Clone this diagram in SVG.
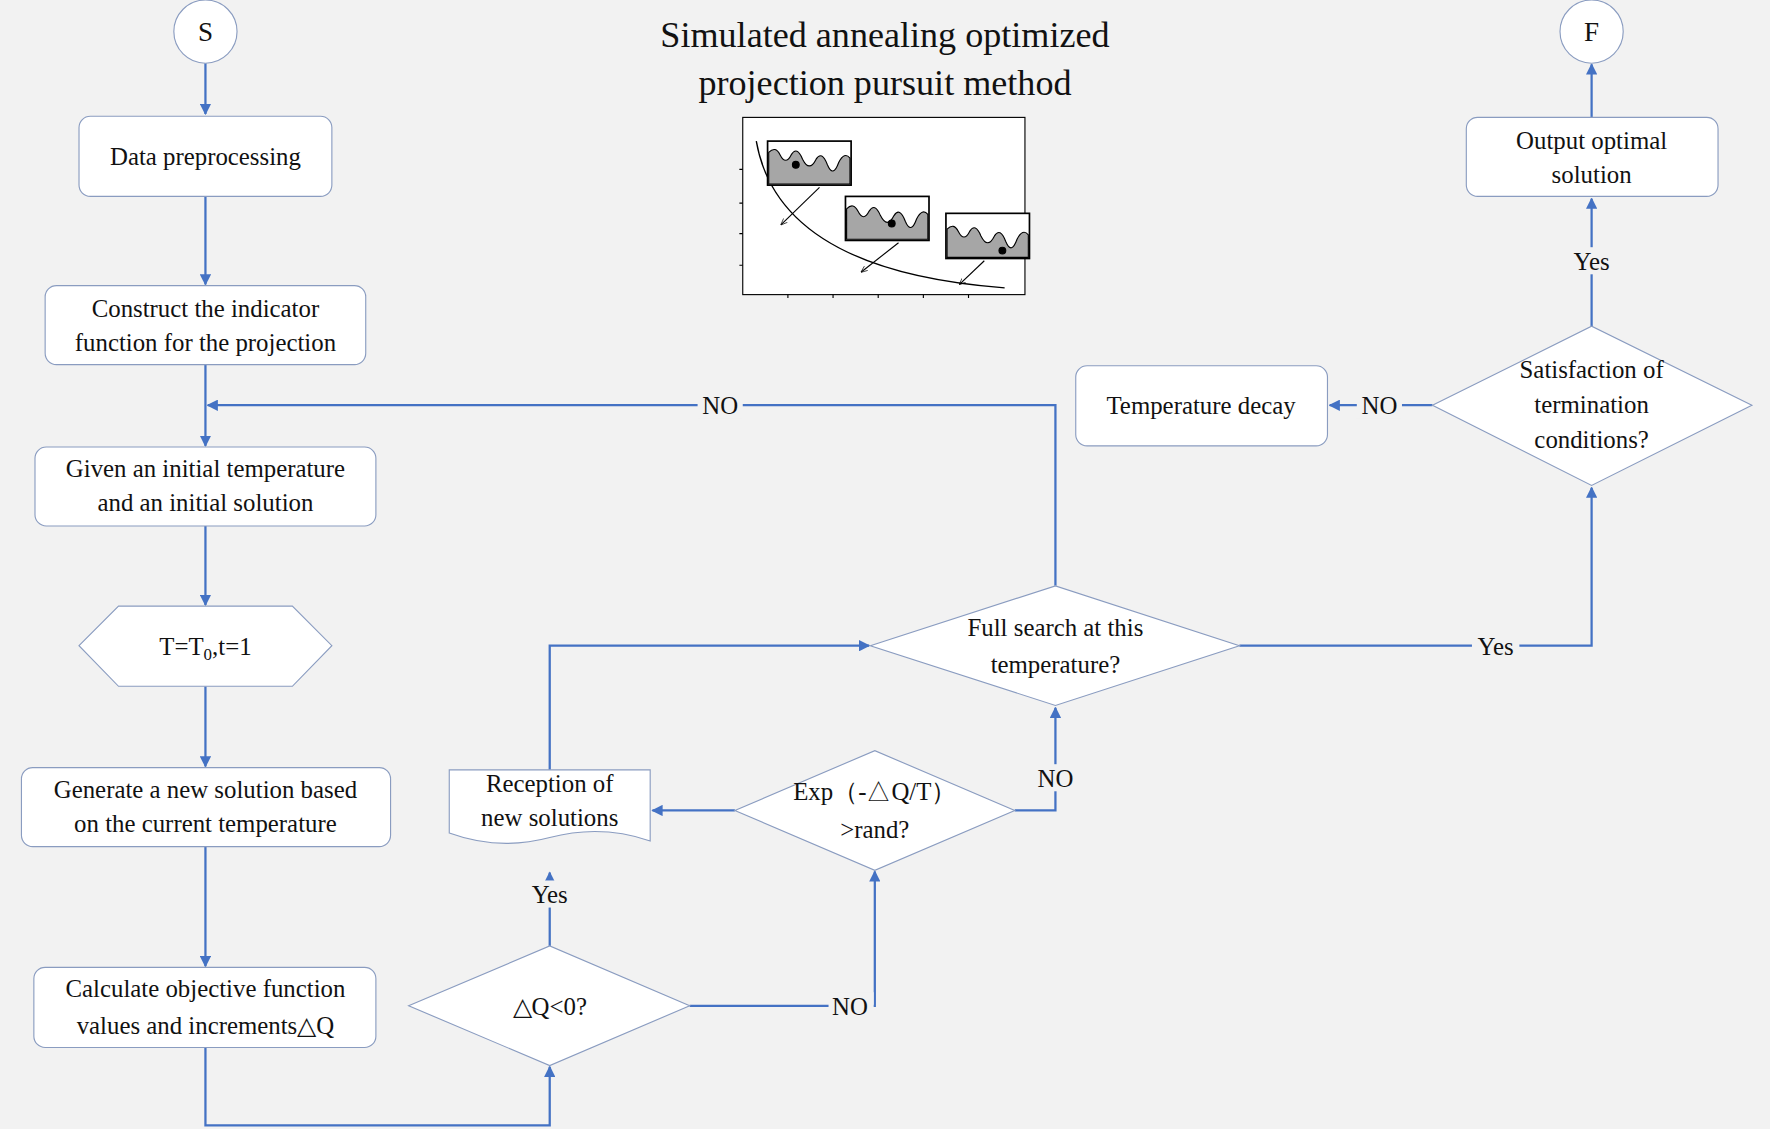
<svg xmlns="http://www.w3.org/2000/svg" width="1770" height="1129" viewBox="0 0 1770 1129">
<defs>
<marker id="ar" viewBox="0 0 10 10" refX="9" refY="5" markerWidth="5" markerHeight="5" orient="auto"><path d="M0,0 L10,5 L0,10 z" fill="#4472c4"/></marker>
<marker id="sa" viewBox="0 0 10 10" refX="9" refY="5" markerWidth="6" markerHeight="6" orient="auto"><path d="M0,1 L10,5 L0,9" fill="none" stroke="#000"/></marker>
<style>
.n{fill:#fff;stroke:#8a9cc0;stroke-width:1}
.t{font-family:"Liberation Serif",serif;font-size:22px;fill:#111;text-anchor:middle}
.c{fill:none;stroke:#4472c4;stroke-width:2;marker-end:url(#ar)}
.l{fill:none;stroke:#4472c4;stroke-width:2}
.lb{fill:#f2f2f2}
</style>
</defs>
<rect width="1770" height="1129" fill="#f2f2f2"/>
<g transform="scale(1.1288)">
<g id="connectors">
<path class="c" d="M182,56V101"/>
<path class="c" d="M182,174V252"/>
<path class="c" d="M182,323V395"/>
<path class="c" d="M182,466V536"/>
<path class="c" d="M182,608V679"/>
<path class="c" d="M182,750V856"/>
<path class="c" d="M182,928V997H487V945"/>
<path class="c" d="M487,838V773"/>
<path class="c" d="M611,891H775V772"/>
<path class="c" d="M651,718H578"/>
<path class="c" d="M899,718H935V627"/>
<path class="c" d="M487,684V572H770"/>
<path class="c" d="M935,519V359H184"/>
<path class="c" d="M1098,572H1410V432"/>
<path class="c" d="M1269,359H1178"/>
<path class="c" d="M1410,289V176"/>
<path class="c" d="M1410,104V57"/>
<rect class="lb" x="466" y="780" width="42" height="24"/><text class="t" x="487" y="800">Yes</text>
<rect class="lb" x="734" y="879" width="40" height="24"/><text class="t" x="753" y="899">NO</text>
<rect class="lb" x="915" y="677" width="40" height="24"/><text class="t" x="935" y="697">NO</text>
<rect class="lb" x="618" y="347" width="40" height="24"/><text class="t" x="638" y="367">NO</text>
<rect class="lb" x="1304" y="560" width="42" height="24"/><text class="t" x="1325" y="580">Yes</text>
<rect class="lb" x="1202" y="347" width="40" height="24"/><text class="t" x="1222" y="367">NO</text>
<rect class="lb" x="1389" y="219" width="42" height="24"/><text class="t" x="1410" y="239">Yes</text>
</g>
<g id="S"><circle class="n" cx="182" cy="28" r="28"/><text class="t" x="182" y="36" style="font-size:24px">S</text></g>
<g id="F"><circle class="n" cx="1410" cy="28" r="28"/><text class="t" x="1410" y="36" style="font-size:24px">F</text></g>
<g id="title"><text class="t" x="784" y="42" style="font-size:32px">Simulated annealing optimized</text><text class="t" x="784" y="84" style="font-size:32px">projection pursuit method</text></g>
<g id="inset">
<rect x="658" y="104" width="250" height="157" fill="#fff" stroke="#000"/>
<path d="M658,150h-3M658,180h-3M658,207h-3M658,235h-3M698,261v3M738,261v3M778,261v3M818,261v3M858,261v3" stroke="#000"/>
<path d="M670,125 Q690,240 890,255" fill="none" stroke="#000" stroke-width="1.2"/>
<g stroke="#000">
<rect x="680" y="125" width="74" height="39" fill="#fff" stroke-width="1.5"/>
<path d="M681,135 q6,-6 10,2 q5,10 10,0 q5,-8 10,4 q6,12 12,0 q5,-8 10,5 q5,12 10,-2 q5,-10 10,-4 V163 H681z" fill="#a6a6a6" stroke-width="1"/>
<circle cx="705" cy="146" r="3" fill="#000"/>
<rect x="749" y="174" width="74" height="39" fill="#fff" stroke-width="1.5"/>
<path d="M750,185 q6,-6 10,2 q5,10 10,0 q5,-8 10,4 q6,12 12,0 q5,-8 10,5 q5,12 10,-2 q5,-10 10,-4 V212 H750z" fill="#a6a6a6" stroke-width="1"/>
<circle cx="790" cy="198" r="3" fill="#000"/>
<rect x="838" y="189" width="74" height="40" fill="#fff" stroke-width="1.5"/>
<path d="M839,203 q6,-6 10,2 q5,10 10,0 q5,-8 10,4 q6,12 12,0 q5,-8 10,5 q5,12 10,-2 q5,-10 10,-4 V228 H839z" fill="#a6a6a6" stroke-width="1"/>
<circle cx="888" cy="222" r="3" fill="#000"/>
<path d="M726,166 L692,199" marker-end="url(#sa)"/>
<path d="M796,215 L763,241" marker-end="url(#sa)"/>
<path d="M872,231 L850,252" marker-end="url(#sa)"/>
</g>
</g>
<g id="n1"><rect class="n" x="70" y="103" width="224" height="71" rx="10"/><text class="t" x="182" y="146">Data preprocessing</text></g>
<g id="n2"><rect class="n" x="40" y="253" width="284" height="70" rx="10"/><text class="t" x="182" y="281">Construct the indicator</text><text class="t" x="182" y="311">function for the projection</text></g>
<g id="n3"><rect class="n" x="31" y="396" width="302" height="70" rx="10"/><text class="t" x="182" y="423">Given an initial temperature</text><text class="t" x="182" y="453">and an initial solution</text></g>
<g id="n4"><polygon class="n" points="70,572 105,537 259,537 294,572 259,608 105,608"/><text class="t" x="182" y="580">T=T<tspan font-size="15" dy="5">0</tspan><tspan dy="-5">,t=1</tspan></text></g>
<g id="n5"><rect class="n" x="19" y="680" width="327" height="70" rx="10"/><text class="t" x="182" y="707">Generate a new solution based</text><text class="t" x="182" y="737">on the current temperature</text></g>
<g id="n6"><rect class="n" x="30" y="857" width="303" height="71" rx="10"/><text class="t" x="182" y="883">Calculate objective function</text><text class="t" x="182" y="916">values and increments△Q</text></g>
<g id="n7"><polygon class="n" points="362,891 487,838 611,891 487,944"/><text class="t" x="487" y="899">△Q&lt;0?</text></g>
<g id="n8"><polygon class="n" points="651,718 775,665 899,718 775,771"/><text class="t" x="775" y="709">Exp（-△Q/T）</text><text class="t" x="775" y="742">&gt;rand?</text></g>
<g id="n9"><path class="n" d="M398,682H576V745Q532,730 487,742T398,738Z"/><text class="t" x="487" y="702">Reception of</text><text class="t" x="487" y="732">new solutions</text></g>
<g id="n10"><polygon class="n" points="771,572 935,519 1098,572 935,625"/><text class="t" x="935" y="563">Full search at this</text><text class="t" x="935" y="596">temperature?</text></g>
<g id="n11"><rect class="n" x="953" y="324" width="223" height="71" rx="10"/><text class="t" x="1064" y="367">Temperature decay</text></g>
<g id="n12"><polygon class="n" points="1269,359 1410,289 1552,359 1410,430"/><text class="t" x="1410" y="335">Satisfaction of</text><text class="t" x="1410" y="366">termination</text><text class="t" x="1410" y="397">conditions?</text></g>
<g id="n13"><rect class="n" x="1299" y="104" width="223" height="70" rx="10"/><text class="t" x="1410" y="132">Output optimal</text><text class="t" x="1410" y="162">solution</text></g>
</g>
</svg>
